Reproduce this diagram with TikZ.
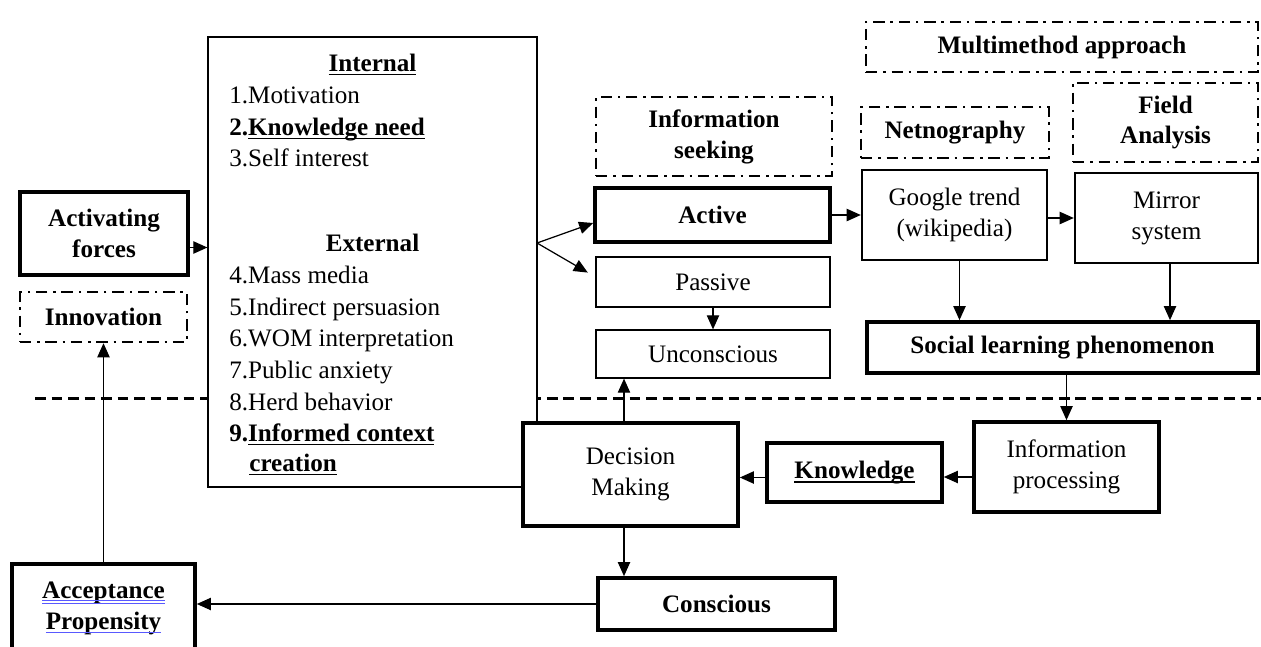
\documentclass[tikz,border=0pt]{standalone}
\usepackage{fontspec}
\setmainfont{Liberation Serif}
\usetikzlibrary{arrows.meta}
\newlength\ulwd
\newcommand\uln[1]{\settowidth\ulwd{#1}\rlap{#1}\rule[-2.4pt]{\ulwd}{0.8pt}}
\newcommand\bluedbl[1]{\settowidth\ulwd{#1}\rlap{#1}\textcolor{blue!65}{\rlap{\rule[-1.8pt]{\ulwd}{0.5pt}}\rule[-3pt]{\ulwd}{0.5pt}}}
\newcommand\blueul[1]{\settowidth\ulwd{#1}\rlap{#1}\textcolor{blue!65}{\rule[-2.4pt]{\ulwd}{0.5pt}}}

\begin{document}
\fontsize{14.3}{17.6}\selectfont
\begin{tikzpicture}[x=0.02cm,y=-0.02cm,
  box/.style={draw,fill=white,inner sep=0pt,align=center},
  heavybox/.style={box,line width=2.1pt},
  midbox/.style={box,line width=1.4pt},
  lightbox/.style={box,line width=0.7pt},
  dotbox/.style={box,line width=1.4pt,dash pattern=on 6.5pt off 3.3pt on 1.4pt off 3.3pt},
  conn/.style={line width=0.7pt,-{Triangle[length=8pt,width=7pt]}},
  item/.style={anchor=base west,inner sep=0pt}]
\useasboundingbox (0,0) rectangle (1261,646);

\draw[line width=1.7pt,dash pattern=on 6pt off 3.4pt] (35,398) -- (1261,398);

% left column
\node[heavybox,minimum width=3.36cm,minimum height=1.66cm,font=\bfseries] (act) at (104,233.5) {Activating\\forces};
\node[dotbox,minimum width=3.34cm,minimum height=1cm,font=\bfseries] (innov) at (103.5,317) {Innovation};
\node[heavybox,minimum width=3.66cm,minimum height=1.76cm,font=\bfseries] (accept) at (103.5,608) {\bluedbl{Acceptance}\\\blueul{Propensity}};

% forces box
\node[lightbox,minimum width=6.58cm,minimum height=9cm] (factors) at (372.5,262) {};
\node[item,anchor=base,font=\bfseries] (intl) at (372.5,71) {\uln{Internal}};
\node[item,anchor=base,font=\bfseries] (extl) at (372.5,251) {External};
\foreach \yy/\txt [count=\i] in {103/1.Motivation, 135/{\textbf{2.\uln{Knowledge need}}}, 166/3.Self interest,
    283/4.Mass media, 315/5.Indirect persuasion, 346/6.WOM interpretation, 378/7.Public anxiety,
    410/8.Herd behavior, 441/{\textbf{9.\uln{Informed context}}}}
  \node[item] (f\i) at (229,\yy) {\txt};
\node[item,font=\bfseries] (f10) at (249,471) {\uln{creation}};

% information seeking
\node[dotbox,minimum width=4.72cm,minimum height=1.58cm,font=\bfseries] (seek) at (714,136.5) {Information\\seeking};
\node[heavybox,minimum width=4.7cm,minimum height=1.08cm,font=\bfseries] (active) at (712.5,215) {Active};
\node[lightbox,minimum width=4.68cm,minimum height=1cm] (passive) at (713,282) {Passive};
\node[lightbox,minimum width=4.68cm,minimum height=0.96cm] (uncon) at (713,354) {Unconscious};

% multimethod
\node[dotbox,minimum width=7.84cm,minimum height=1cm,font=\bfseries] (multi) at (1062,47) {Multimethod approach};
\node[dotbox,minimum width=3.76cm,minimum height=1.02cm,font=\bfseries] (netno) at (955,132.5) {Netnography};
\node[dotbox,minimum width=3.7cm,minimum height=1.58cm,font=\bfseries] (field) at (1165.5,122.5) {Field\\Analysis};
\node[midbox,minimum width=3.7cm,minimum height=1.8cm] (google) at (954.5,215) {Google trend\\(wikipedia)};
\node[midbox,minimum width=3.66cm,minimum height=1.8cm] (mirror) at (1166.5,218) {Mirror\\system};
\node[heavybox,minimum width=7.82cm,minimum height=1.02cm,font=\bfseries] (social) at (1062.5,347.5) {Social learning phenomenon};

% lower row
\node[heavybox,minimum width=3.7cm,minimum height=1.8cm] (info) at (1066.5,467) {Information\\processing};
\node[heavybox,minimum width=3.5cm,minimum height=1.18cm,font=\bfseries] (know) at (854.5,472.5) {\uln{Knowledge}};
\node[heavybox,minimum width=4.3cm,minimum height=2.06cm] (decide) at (630.5,474.5) {Decision\\Making};
\node[heavybox,minimum width=4.74cm,minimum height=1.04cm,font=\bfseries] (consc) at (716.5,604) {Conscious};

% connectors
\coordinate (fan) at (537,243);
\draw[conn] ([yshift=-0.28cm]act.east) -- ([yshift=-0.28cm]act.east -| factors.west);
\draw[conn] (fan) -- ([yshift=-0.16cm]active.west);
\draw[conn,shorten >=5pt] (fan) -- ([yshift=0.1cm]passive.west);
\draw[conn] (passive.south) -- (uncon.north);
\draw[conn] (active.east) -- (google.west);
\draw[conn] (mirror.west -| google.east) -- (mirror.west);
\draw[conn] ([xshift=0.1cm]google.south) -- ([xshift=0.1cm]google.south |- social.north);
\draw[conn] ([xshift=0.07cm]mirror.south) -- ([xshift=0.07cm]mirror.south |- social.north);
\draw[conn] (social.south -| info.north) -- (info.north);
\draw[conn] ([yshift=-0.2cm]info.west) -- ([yshift=-0.2cm]info.west -| know.east);
\draw[conn] ([yshift=-0.1cm]know.west) -- ([yshift=-0.1cm]know.west -| decide.east);
\draw[conn] ([xshift=-0.13cm]decide.north) -- ([xshift=-0.13cm]decide.north |- uncon.south);
\draw[conn] ([xshift=-0.13cm]decide.south) -- ([xshift=-0.13cm]decide.south |- consc.north);
\draw[conn] (consc.west) -- (consc.west -| accept.east);
\draw[conn] (accept.north) -- (innov.south);
\end{tikzpicture}
\end{document}
